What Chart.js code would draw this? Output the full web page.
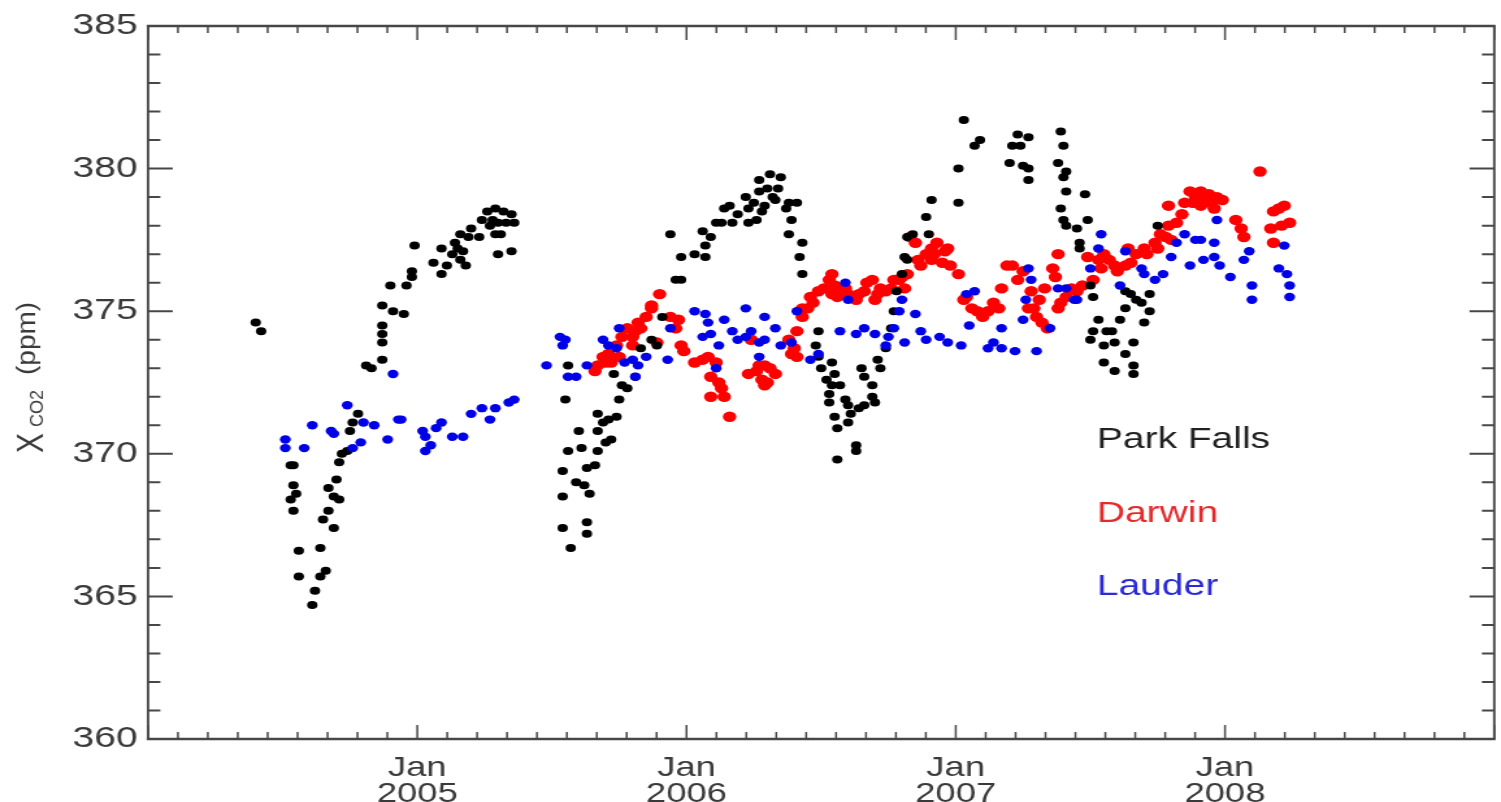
<!DOCTYPE html>
<html>
<head>
<meta charset="utf-8">
<title>XCO2 Park Falls / Darwin / Lauder</title>
<style>
  html, body { margin: 0; padding: 0; background: #fff; overflow: hidden; }
  /* the original figure is stretched sideways, so the chart is drawn narrow and widened */
  #wrap { width: 1155px; height: 802px; transform: scaleX(1.29957); transform-origin: 0 0; }
</style>
<script src="https://cdn.jsdelivr.net/npm/chart.js"></script>
</head>
<body>
<div id="wrap"><canvas id="grafico"></canvas></div>
<script>
/* ============================================================
   DADOS (ano decimal, ppm)
============================================================ */
const parkYear = [
  2004.40, 2004.42, 2004.53, 2004.54, 2004.54, 2004.55, 2004.53, 2004.54, 2004.56, 2004.64,
  2004.56, 2004.64, 2004.66, 2004.62, 2004.61, 2004.65, 2004.69, 2004.67, 2004.71, 2004.69,
  2004.67, 2004.70, 2004.71, 2004.72, 2004.74, 2004.75, 2004.76, 2004.78, 2004.81, 2004.83,
  2004.87, 2004.87, 2004.87, 2004.87, 2004.87, 2004.91, 2004.95, 2004.90, 2004.96, 2004.98,
  2004.98, 2004.99, 2005.06, 2005.09, 2005.09, 2005.13, 2005.14, 2005.16, 2005.16, 2005.18,
  2005.17, 2005.20, 2005.23, 2005.26, 2005.28, 2005.29, 2005.30, 2005.32, 2005.33, 2005.35,
  2005.36, 2005.35, 2005.30, 2005.27, 2005.11, 2005.15, 2005.19, 2005.24, 2005.31, 2005.29,
  2005.56, 2005.55, 2005.60, 2005.56, 2005.54, 2005.59, 2005.54, 2005.54, 2005.57, 2005.63,
  2005.63, 2005.64, 2005.62, 2005.63, 2005.66, 2005.61, 2005.67, 2005.67, 2005.70, 2005.72,
  2005.71, 2005.74, 2005.67, 2005.69, 2005.75, 2005.78, 2005.76, 2005.73, 2005.81, 2005.83,
  2005.87, 2005.89, 2005.91, 2005.94, 2005.96, 2005.98, 2005.98, 2006.03, 2006.07, 2006.06,
  2006.09, 2006.11, 2006.07, 2006.13, 2006.14, 2006.16, 2006.17, 2006.22, 2006.23, 2006.23,
  2006.27, 2006.27, 2006.31, 2006.35, 2006.29, 2006.32, 2006.26, 2006.28, 2006.33, 2006.38,
  2006.41, 2006.39, 2006.38, 2006.43, 2006.42, 2006.43, 2006.19, 2006.25, 2006.30, 2006.34,
  2006.37,
  2006.49, 2006.48, 2006.49, 2006.50, 2006.52, 2006.53, 2006.53, 2006.55, 2006.56, 2006.56,
  2006.63, 2006.63, 2006.60, 2006.61, 2006.64, 2006.66, 2006.69, 2006.70, 2006.69, 2006.66,
  2006.65, 2006.54, 2006.55, 2006.59, 2006.60, 2006.72, 2006.71, 2006.74, 2006.76, 2006.77,
  2006.57, 2006.54, 2006.78, 2006.80, 2006.82, 2006.82, 2006.81, 2006.84, 2006.90, 2006.89,
  2006.91, 2007.01, 2007.01, 2007.03, 2007.07, 2007.09,
  2007.23, 2007.27, 2007.21, 2007.24, 2007.20, 2007.25, 2007.27, 2007.27, 2007.39, 2007.40,
  2007.38, 2007.41, 2007.40, 2007.41, 2007.48, 2007.39, 2007.40, 2007.41, 2007.49, 2007.45,
  2007.46, 2007.46, 2007.50, 2007.51, 2007.75, 2007.63, 2007.67, 2007.72, 2007.53, 2007.51,
  2007.50, 2007.55, 2007.58, 2007.61, 2007.59, 2007.66, 2007.63, 2007.55, 2007.59, 2007.66,
  2007.66, 2007.70, 2007.72, 2007.65, 2007.69, 2007.63, 2007.56
];
const parkPpm = [
  374.6, 374.3, 369.6, 369.6, 368.9, 368.6, 368.4, 368.0, 366.6, 366.7,
  365.7, 365.7, 365.9, 365.2, 364.7, 367.7, 367.4, 368.0, 368.4, 368.5,
  368.8, 369.1, 369.7, 370.0, 370.1, 370.8, 371.1, 371.4, 373.1, 373.0,
  373.3, 373.9, 374.2, 374.5, 375.2, 375.0, 374.9, 375.9, 375.9, 376.2,
  376.4, 377.3, 376.7, 376.3, 377.2, 377.0, 377.4, 377.7, 376.8, 376.6,
  377.1, 377.9, 377.6, 378.5, 378.2, 377.7, 377.0, 378.5, 378.1, 378.4,
  378.1, 377.1, 378.1, 378.0, 376.6, 377.2, 377.6, 378.2, 377.7, 378.6,
  373.1, 371.9, 370.8, 370.1, 369.4, 369.0, 368.5, 367.4, 366.7, 367.2,
  367.6, 368.6, 368.9, 369.5, 369.6, 370.2, 370.8, 370.1, 370.4, 370.5,
  371.2, 371.3, 371.4, 371.1, 371.9, 372.3, 372.4, 372.8, 372.7, 373.7,
  374.0, 373.8, 374.8, 377.7, 376.1, 376.1, 376.9, 377.0, 376.9, 377.8,
  377.6, 378.1, 377.3, 378.1, 378.6, 378.7, 378.1, 379.0, 378.6, 378.1,
  379.2, 379.6, 379.8, 379.7, 378.7, 379.0, 378.2, 378.5, 378.9, 378.8,
  378.8, 378.2, 377.7, 377.4, 376.9, 376.3, 378.4, 378.8, 379.3, 379.3,
  378.6,
  374.3, 373.8, 373.4, 373.0, 372.6, 372.1, 371.8, 371.3, 370.9, 369.8,
  370.3, 370.1, 371.1, 371.4, 371.6, 371.7, 372.0, 371.8, 372.4, 372.7,
  373.0, 373.2, 372.8, 371.9, 371.7, 373.0, 373.3, 373.7, 374.4, 375.0,
  372.4, 372.4, 375.7, 376.3, 376.8, 377.6, 376.9, 377.7, 377.7, 378.3,
  378.9, 380.0, 378.8, 381.7, 380.8, 381.0,
  381.2, 381.1, 380.8, 380.8, 380.2, 380.1, 380.0, 379.6, 381.3, 380.8,
  380.2, 379.9, 379.7, 379.2, 379.1, 378.6, 378.2, 378.0, 378.2, 377.9,
  377.4, 377.2, 375.9, 375.5, 378.0, 375.7, 375.4, 375.6, 374.7, 374.3,
  374.0, 373.8, 374.3, 374.7, 373.9, 373.9, 373.5, 373.2, 372.9, 372.8,
  373.1, 374.6, 375.0, 375.6, 375.3, 375.1, 374.3
];

const darwinYear = [
  2005.66, 2005.67, 2005.70, 2005.71, 2005.74, 2005.76, 2005.78, 2005.80, 2005.81, 2005.83,
  2005.85, 2005.87, 2005.90, 2005.89, 2005.80, 2005.75, 2005.72, 2005.87, 2005.94, 2005.97,
  2005.96, 2005.98, 2006.03, 2006.08, 2006.11, 2006.09, 2006.12, 2006.13, 2006.09, 2006.14,
  2006.16, 2006.24, 2006.23, 2006.27, 2006.29, 2006.31, 2006.28, 2006.30, 2006.33, 2006.29,
  2006.38, 2006.39, 2006.41, 2006.43, 2006.45, 2006.46, 2006.49, 2006.54, 2006.57, 2006.63,
  2006.66, 2006.71, 2006.76, 2006.81, 2006.40, 2006.41, 2006.54, 2006.55, 2006.60, 2006.63,
  2006.69, 2006.72, 2006.79, 2006.82, 2006.86, 2006.89, 2006.91, 2006.93, 2006.96, 2006.98,
  2007.01, 2006.85, 2006.91, 2006.83, 2007.03, 2007.06, 2007.10, 2007.12, 2007.16, 2007.17,
  2007.19, 2007.21, 2007.23, 2007.28, 2007.33, 2007.36, 2007.38, 2007.37, 2007.31, 2007.27,
  2007.30, 2007.34, 2007.38, 2007.41, 2007.45, 2007.49, 2007.53, 2007.55, 2007.59, 2007.63,
  2007.64, 2007.67, 2007.70, 2007.74, 2007.76, 2007.79, 2007.82, 2007.79, 2007.85, 2007.87,
  2007.91, 2007.93, 2007.97, 2007.96, 2007.91, 2008.04, 2008.06, 2008.07, 2008.13, 2008.20,
  2008.22, 2008.18, 2008.17, 2008.21, 2008.24, 2008.18,
  2006.43, 2006.47, 2006.51, 2006.53, 2006.56, 2006.59, 2006.64, 2006.67, 2006.70, 2006.74,
  2006.77, 2006.80, 2006.87, 2006.92, 2006.95, 2006.97,
  2007.54, 2007.57, 2007.60, 2007.65, 2007.71, 2007.75, 2007.78, 2007.80, 2007.84, 2007.88,
  2007.89, 2007.94, 2007.95, 2007.99,
  2007.04, 2007.08, 2007.14, 2007.25, 2007.29, 2007.32, 2007.39, 2007.43, 2007.47, 2007.51,
  2005.69, 2005.82, 2005.99, 2006.06, 2006.26
];
const darwinPpm = [
  372.9, 373.1, 373.2, 373.5, 373.8, 374.1, 374.4, 374.1, 374.3, 374.4,
  374.8, 375.1, 375.6, 373.9, 373.8, 373.4, 373.2, 375.2, 374.8, 374.7,
  374.4, 373.8, 373.2, 373.4, 373.2, 372.7, 372.5, 372.3, 372.0, 372.0,
  371.3, 374.0, 372.8, 373.1, 373.1, 373.0, 372.6, 372.5, 372.8, 372.4,
  374.0, 373.5, 374.3, 374.8, 375.1, 375.5, 375.7, 375.6, 375.7, 375.5,
  375.7, 375.6, 375.8, 375.8, 373.7, 373.4, 376.3, 375.9, 375.6, 375.4,
  376.1, 375.8, 376.1, 376.3, 376.8, 377.0, 376.8, 377.4, 377.1, 376.6,
  376.3, 377.4, 377.2, 377.6, 375.4, 375.1, 374.8, 375.0, 375.1, 375.8,
  376.6, 376.6, 376.1, 375.7, 375.8, 376.5, 377.0, 376.2, 375.4, 375.1,
  374.8, 374.4, 375.1, 375.5, 375.7, 376.9, 376.8, 377.0, 376.6, 376.6,
  377.2, 377.0, 377.2, 377.4, 377.7, 378.0, 378.1, 378.7, 378.8, 379.2,
  379.2, 378.9, 379.0, 378.6, 378.7, 378.2, 377.9, 377.6, 379.9, 378.6,
  378.7, 378.5, 377.9, 378.0, 378.1, 377.4,
  375.1, 375.3, 375.8, 376.1, 375.5, 375.8, 375.6, 376.0, 375.4, 375.7,
  376.1, 376.2, 376.6, 377.0, 376.7, 377.2,
  376.5, 376.8, 376.4, 376.7, 377.0, 377.2, 377.6, 377.5, 378.4, 378.8,
  379.0, 379.1, 378.8, 378.9,
  375.5, 375.0, 375.3, 376.4, 375.1, 374.6, 375.3, 375.8, 375.9, 376.1,
  373.4, 374.6, 373.6, 373.3, 372.9
];

const lauderYear = [
  2004.51, 2004.51, 2004.58, 2004.61, 2004.68, 2004.69, 2004.74, 2004.80, 2004.84, 2004.76,
  2004.79, 2004.89, 2004.91, 2004.93, 2004.94, 2005.02, 2005.03, 2005.05, 2005.03, 2005.07,
  2005.09, 2005.13, 2005.17, 2005.20, 2005.24, 2005.27, 2005.29, 2005.34, 2005.36, 2005.48,
  2005.53, 2005.55, 2005.54, 2005.56, 2005.59, 2005.63, 2005.69, 2005.71, 2005.75, 2005.74,
  2005.77, 2005.80, 2005.82, 2005.81, 2005.85, 2005.93, 2005.94, 2006.03, 2006.07, 2006.08,
  2006.06, 2006.09, 2006.12, 2006.14, 2006.17, 2006.19, 2006.22, 2006.22, 2006.24, 2006.27,
  2006.27, 2006.29, 2006.29, 2006.33, 2006.35, 2006.39, 2006.41, 2006.11, 2006.46, 2006.49,
  2006.60, 2006.57, 2006.63, 2006.66, 2006.70, 2006.74, 2006.75, 2006.77, 2006.79, 2006.80,
  2006.81, 2006.85, 2006.87, 2006.89, 2006.94, 2006.97, 2007.02, 2007.05, 2007.07, 2007.12,
  2007.14, 2006.59, 2007.04, 2007.17, 2007.17, 2007.25, 2007.35, 2007.45, 2007.27, 2007.28,
  2007.26, 2007.38, 2007.41, 2007.44, 2007.50, 2007.53, 2007.54, 2007.61, 2007.63, 2007.69,
  2007.70, 2007.74, 2007.77, 2007.80, 2007.82, 2007.85, 2007.87, 2007.89, 2007.91, 2007.92,
  2007.96, 2007.96, 2007.98, 2007.97, 2008.02, 2008.07, 2008.09, 2008.10, 2008.10, 2008.20,
  2008.22, 2008.23, 2008.24, 2008.24, 2007.30, 2007.22
];
const lauderPpm = [
  370.5, 370.2, 370.2, 371.0, 370.8, 370.7, 371.7, 371.1, 371.0, 370.2,
  370.4, 370.5, 372.8, 371.2, 371.2, 370.8, 370.6, 370.3, 370.1, 370.9,
  371.1, 370.6, 370.6, 371.4, 371.6, 371.2, 371.6, 371.8, 371.9, 373.1,
  374.1, 374.0, 373.8, 372.7, 372.7, 373.1, 374.0, 373.8, 374.4, 373.7,
  373.2, 373.3, 373.1, 372.7, 373.4, 373.3, 374.4, 375.0, 374.9, 374.6,
  374.1, 374.2, 373.8, 374.7, 374.3, 374.0, 375.1, 374.1, 374.3, 373.9,
  373.4, 374.8, 374.0, 374.4, 373.8, 373.9, 375.0, 373.0, 373.3, 373.5,
  375.4, 374.3, 374.2, 374.4, 374.2, 373.8, 374.1, 374.4, 375.0, 375.4,
  373.9, 374.9, 374.3, 374.0, 374.1, 373.9, 373.8, 374.5, 375.7, 373.7,
  373.9, 376.0, 375.6, 374.4, 373.7, 374.7, 374.4, 375.4, 376.5, 376.1,
  375.4, 375.8, 375.8, 375.4, 376.5, 377.2, 377.7, 375.9, 377.1, 376.5,
  376.3, 376.1, 376.3, 376.9, 377.4, 377.7, 376.6, 377.5, 377.5, 376.8,
  377.4, 376.9, 376.6, 378.2, 376.2, 376.8, 377.1, 375.9, 375.4, 376.5,
  377.3, 376.3, 375.9, 375.5, 373.6, 373.6
];

const yearTicks = [2005, 2006, 2007, 2008];
const tickMonth = "Jan";
const legendNames = ["Park Falls", "Darwin", "Lauder"];

/* ============================================================
   ESTILO
============================================================ */
const FONT = "'Liberation Sans', Arial, Helvetica, sans-serif";
const corTexto = "#3a3a3a";
const corEixo = "#474747";
const corPark = "#000000";
const corDarwin = "#ff0000";
const corLauder = "#0000e8";

const pares = (xs, ys) => xs.map((x, i) => ({ x: x, y: ys[i] }));

/* moldura com marcas para dentro nos quatro lados */
const moldura = {
  id: "moldura",
  afterDraw(chart) {
    const { ctx, chartArea: a, scales } = chart;
    const x = scales.x, y = scales.y;
    ctx.save();
    ctx.strokeStyle = corEixo;
    ctx.lineCap = "butt";

    ctx.lineWidth = 2.4;
    ctx.beginPath();
    ctx.moveTo(a.left - 1, a.top); ctx.lineTo(a.right + 1, a.top);
    ctx.moveTo(a.left - 1, a.bottom); ctx.lineTo(a.right + 1, a.bottom);
    ctx.stroke();
    ctx.lineWidth = 1.9;
    ctx.beginPath();
    ctx.moveTo(a.left, a.top); ctx.lineTo(a.left, a.bottom);
    ctx.moveTo(a.right, a.top); ctx.lineTo(a.right, a.bottom);
    ctx.stroke();

    // marcas do eixo y: maiores a cada 5 ppm, menores a cada 1 ppm
    ctx.lineWidth = 2;
    ctx.beginPath();
    for (let v = y.min; v <= y.max; v++) {
      const py = y.getPixelForValue(v);
      const len = v % 5 === 0 ? 19 : 9.5;
      ctx.moveTo(a.left, py); ctx.lineTo(a.left + len, py);
      ctx.moveTo(a.right, py); ctx.lineTo(a.right - len, py);
    }
    ctx.stroke();

    // marcas do eixo x: 9 divisoes por ano
    ctx.lineWidth = 1.5;
    ctx.beginPath();
    const n = (x.max - x.min) * 9;
    for (let k = 0; k <= n; k++) {
      const px = x.getPixelForValue(x.min + k / 9);
      const len = k % 9 === 0 ? 14 : 7;
      ctx.moveTo(px, a.bottom); ctx.lineTo(px, a.bottom - len);
      ctx.moveTo(px, a.top); ctx.lineTo(px, a.top + len);
    }
    ctx.stroke();
    ctx.restore();
  },
};

/* titulo do eixo y (X com indice CO2) e legenda em texto */
const textos = {
  id: "textos",
  afterDraw(chart) {
    const { ctx } = chart;
    ctx.save();
    ctx.fillStyle = corTexto;
    ctx.textBaseline = "alphabetic";
    ctx.textAlign = "left";

    ctx.save();
    ctx.translate(33, 453);
    ctx.rotate(-Math.PI / 2);
    ctx.font = "30px " + FONT;
    ctx.fillText("X", 0, 0);
    ctx.save();
    ctx.scale(1, 0.85);
    ctx.font = "18px " + FONT;
    ctx.fillText("CO2", 26, 0);
    ctx.restore();
    ctx.save();
    ctx.scale(1, 0.72);
    ctx.font = "28px " + FONT;
    ctx.fillText("(ppm)", 78, -9);
    ctx.restore();
    ctx.restore();

    const cores = [ "#222222", "#e52a2a", "#2a2ad8" ];
    const linhas = [448, 522, 595];
    ctx.font = "30px " + FONT;
    legendNames.forEach((nome, i) => {
      ctx.fillStyle = cores[i];
      ctx.fillText(nome, 844, linhas[i]);
    });
    ctx.restore();
  },
};

new Chart(document.getElementById("grafico"), {
  type: "scatter",
  data: {
    datasets: [
      {
        label: legendNames[1],
        data: pares(darwinYear, darwinPpm),
        backgroundColor: corDarwin,
        borderWidth: 0,
        pointRadius: 5.2,
        order: 3,
      },
      {
        label: legendNames[0],
        data: pares(parkYear, parkPpm),
        backgroundColor: corPark,
        borderWidth: 0,
        pointRadius: 4,
        order: 2,
      },
      {
        label: legendNames[2],
        data: pares(lauderYear, lauderPpm),
        backgroundColor: corLauder,
        borderWidth: 0,
        pointRadius: 4.2,
        order: 1,
      },
    ],
  },
  options: {
    responsive: true,
    maintainAspectRatio: false,
    animation: false,
    layout: { padding: { top: 14, right: 2.3, left: 0, bottom: 0 } },
    plugins: {
      legend: { display: false },
      tooltip: { enabled: false },
    },
    scales: {
      x: {
        type: "linear",
        min: 2004,
        max: 2009,
        afterFit: (s) => { s.height = 63; },
        afterBuildTicks: (s) => {
          s.ticks = yearTicks.map((v) => ({ value: v }));
        },
        grid: { display: false, drawTicks: false },
        border: { display: false },
        ticks: {
          autoSkip: false,
          maxRotation: 0,
          padding: 17,
          color: corTexto,
          font: { family: FONT, size: 28, lineHeight: 0.9 },
          callback: (v) => [tickMonth, String(v)],
        },
      },
      y: {
        min: 360,
        max: 385,
        afterFit: (s) => { s.width = 113.9; },
        grid: { display: false, drawTicks: false },
        border: { display: false },
        ticks: {
          stepSize: 5,
          padding: 8,
          color: corTexto,
          font: { family: FONT, size: 30 },
        },
      },
    },
  },
  plugins: [moldura, textos],
});
</script>
</body>
</html>
